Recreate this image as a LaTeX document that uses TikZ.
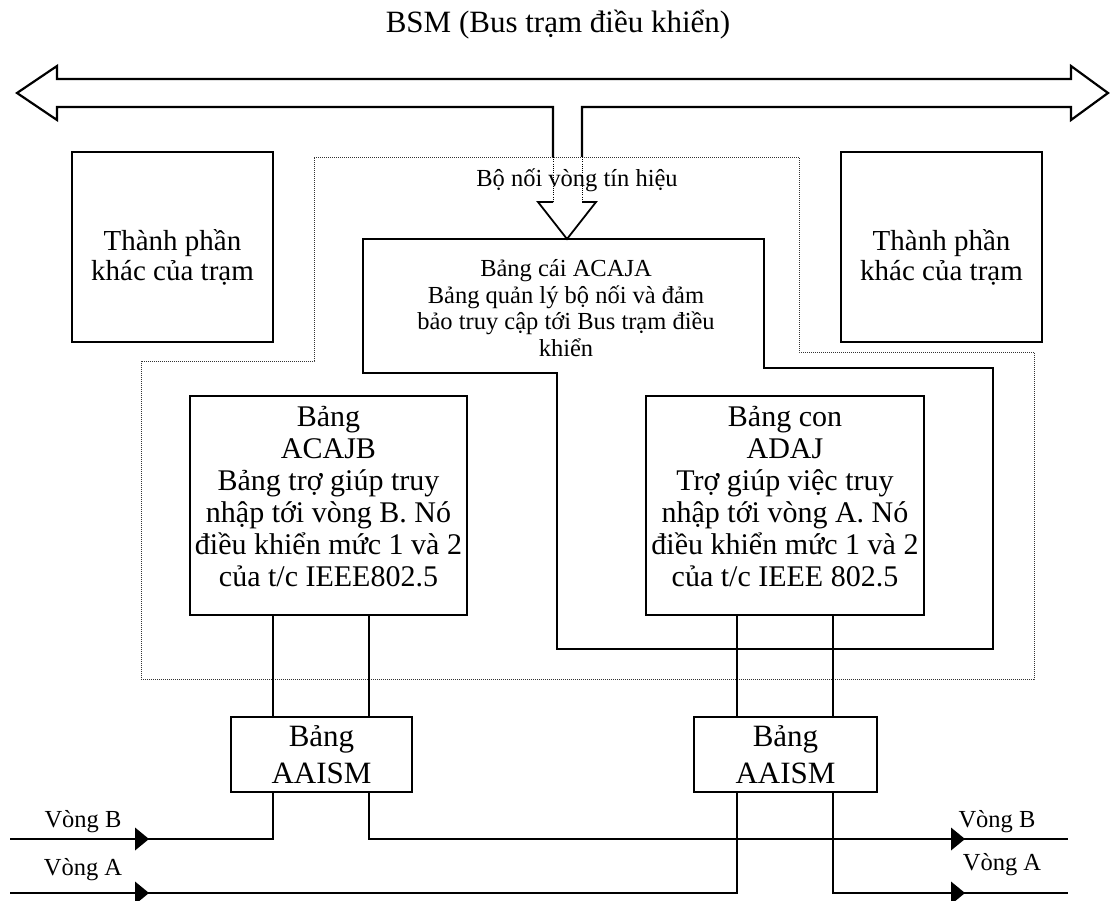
\documentclass[tikz,border=0pt]{standalone}
\usepackage{fontspec}
\setmainfont{Liberation Serif}
\begin{document}
\begin{tikzpicture}[x=1pt,y=-1pt,
  box/.style={draw, line width=1.3pt, inner sep=0pt, align=center},
  wire/.style={line width=2.4pt},
  busline/.style={line width=2.2pt, line join=miter},
  headline/.style={line width=1.8pt, line join=miter},
  fence/.style={line width=0.9pt, dash pattern=on 0.9pt off 1.1pt, black!80},
  bigtext/.style={font=\fontsize{30}{32}\selectfont, align=center, inner sep=0pt},
  midtext/.style={font=\fontsize{29}{30}\selectfont, align=center, inner sep=0pt},
  smalltext/.style={font=\fontsize{24.5}{26.7}\selectfont, align=center, inner sep=0pt},
]
\useasboundingbox (0,0) rectangle (1110,901);

% title of the station bus
\node[font=\fontsize{31}{37}\selectfont, anchor=base, inner sep=0pt] (title) at (558,33) {BSM (Bus trạm điều khiển)};

% dotted outline of the signal ring coupler
\draw[fence] (314,157) -- (799,157) -- (799,352) -- (1034,352) -- (1034,679)
  -- (141,679) -- (141,361) -- (314,361) -- cycle;

% station bus: wide double arrow with a branch going down
\draw[busline, fill=white] (582,157) -- (582,107) -- (1071,107) -- (1071,120) -- (1108,93)
  -- (1071,66) -- (1071,79) -- (57,79) -- (57,66) -- (17,93) -- (57,120) -- (57,107)
  -- (553,107) -- (553,157);
\draw[line width=1pt, dash pattern=on 1pt off 1.2pt] (553,157) -- (553,202) (582,157) -- (582,202);
\draw[headline] (553,202) -- (538,202) -- (567,239) -- (596,202) -- (582,202);
\node[smalltext, anchor=base] (coupler) at (577,187) {Bộ nối vòng tín hiệu};

% other station parts
\node[box, minimum width=201pt, minimum height=190pt] (otherL) at (172.5,247) {};
\node[midtext] (otherLtext) at (172.5,257) {Thành phần\\khác của trạm};
\node[box, minimum width=201pt, minimum height=190pt] (otherR) at (941.5,247) {};
\node[midtext] (otherRtext) at (941.5,257) {Thành phần\\khác của trạm};

% master board ACAJA (stepped outline)
\draw[line width=1.3pt] (363,239) -- (764,239) -- (764,368) -- (993,368) -- (993,649)
  -- (557,649) -- (557,373) -- (363,373) -- cycle;
\node[smalltext] (acaja) at (566,308) {Bảng cái ACAJA\\Bảng quản lý bộ nối và đảm\\bảo truy cập tới Bus trạm điều\\khiển};

% ring access boards
\node[box, fill=white, minimum width=277pt, minimum height=219pt] (acajb) at (328.5,505.5) {};
\node[bigtext] (acajbtext) at (328.5,497) {Bảng\\ACAJB\\Bảng trợ giúp truy\\nhập tới vòng B. Nó\\điều khiển mức 1 và 2\\của t/c IEEE802.5};
\node[box, fill=white, minimum width=278pt, minimum height=219pt] (adaj) at (785,505.5) {};
\node[bigtext] (adajtext) at (785,497) {Bảng con\\ADAJ\\Trợ giúp việc truy\\nhập tới vòng A. Nó\\điều khiển mức 1 và 2\\của t/c IEEE 802.5};

% AAISM boards
\node[box, minimum width=181pt, minimum height=75pt, font=\fontsize{31}{37}\selectfont] (aaismL) at (321.5,754.5) {Bảng\\AAISM};
\node[box, minimum width=183pt, minimum height=75pt, font=\fontsize{31}{37}\selectfont] (aaismR) at (785.5,754.5) {Bảng\\AAISM};

% wire columns and ring ends
\coordinate (cB1) at (273,0);
\coordinate (cB2) at (369,0);
\coordinate (cA1) at (737,0);
\coordinate (cA2) at (833,0);
\coordinate (ringBleft) at (10,839);
\coordinate (ringBright) at (1068,839);
\coordinate (ringAleft) at (10,893);
\coordinate (ringAright) at (1068,893);

\draw[wire] (acajb.south -| cB1) -- (aaismL.north -| cB1);
\draw[wire] (acajb.south -| cB2) -- (aaismL.north -| cB2);
\draw[wire] (adaj.south -| cA1) -- (aaismR.north -| cA1);
\draw[wire] (adaj.south -| cA2) -- (aaismR.north -| cA2);

\draw[wire] (aaismL.south -| cB1) |- (ringBleft);
\draw[wire] (aaismL.south -| cB2) |- (ringBright);
\draw[wire] (aaismR.south -| cA1) |- (ringAleft);
\draw[wire] (aaismR.south -| cA2) |- (ringAright);

% direction marks on the rings
\newcommand\ringtip[1]{\fill (#1) ++(0,-11.5) -- ++(14,11.5) -- ++(-14,11.5) -- cycle;}
\coordinate (tipBL) at (135,839);
\coordinate (tipAL) at (135,893);
\coordinate (tipBR) at (951,839);
\coordinate (tipAR) at (951,893);
\ringtip{tipBL}
\ringtip{tipAL}
\ringtip{tipBR}
\ringtip{tipAR}

% ring labels
\node[smalltext, anchor=base] (labBL) at (83,827) {Vòng B};
\node[smalltext, anchor=base] (labAL) at (83,875) {Vòng A};
\node[smalltext, anchor=base] (labBR) at (997,827) {Vòng B};
\node[smalltext, anchor=base] (labAR) at (1002,870) {Vòng A};
\end{tikzpicture}
\end{document}
